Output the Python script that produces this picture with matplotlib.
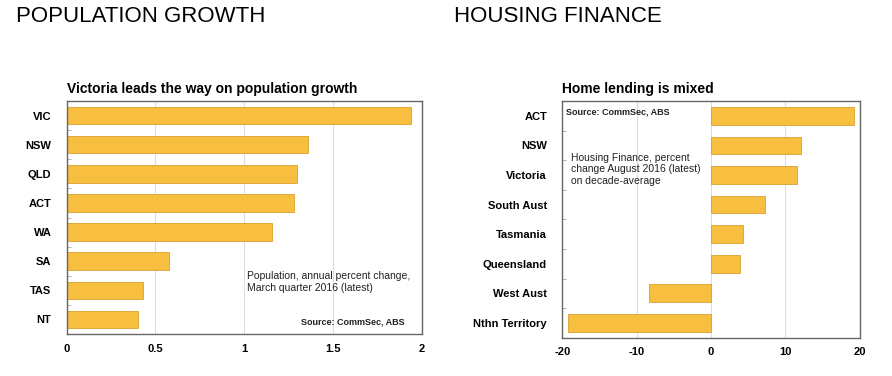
import matplotlib
matplotlib.use("Agg")
import matplotlib.pyplot as plt
import numpy as np

plt.rcParams['font.family'] = ['Liberation Sans', 'DejaVu Sans']
plt.rcParams['axes.unicode_minus'] = False

# population growth, annual % change, March qtr 2016
pop_states = ['VIC', 'NSW', 'QLD', 'ACT', 'WA', 'SA', 'TAS', 'NT']
pop_growth = [1.94, 1.36, 1.30, 1.28, 1.155, 0.575, 0.43, 0.40]

# housing finance, % change Aug 2016 on decade-average
fin_states = ['ACT', 'NSW', 'Victoria', 'South Aust', 'Tasmania',
              'Queensland', 'West Aust', 'Nthn Territory']
fin_change = [19.2, 12.1, 11.5, 7.3, 4.3, 3.9, -8.3, -19.3]

bar_col = '#F8BE40'
edge_col = '#D9A030'
W, H = 892, 376

fig = plt.figure(figsize=(8.92, 3.76), dpi=100)


def px(x, y):
    return x / W, 1 - y / H


def style_axes(ax, cats):
    ax.set_ylim(-0.5, len(cats) - 0.5)
    ax.invert_yaxis()
    ax.set_yticks(range(len(cats)))
    ax.set_yticklabels(cats, fontsize=8, fontweight='bold')
    ax.set_yticks(np.arange(0.5, len(cats) - 1, 1), minor=True)
    ax.tick_params(axis='y', which='major', length=0, pad=11)
    ax.tick_params(axis='y', which='minor', length=3, direction='in', color='#aaaaaa')
    ax.tick_params(axis='x', length=0, pad=7, labelsize=8)
    for lab in ax.get_xticklabels():
        lab.set_fontweight('bold')
    ax.grid(axis='x', color='#dddddd', linewidth=0.8)
    ax.set_axisbelow(True)
    for s in ax.spines.values():
        s.set_color('#666666')
        s.set_linewidth(1.0)


# left chart
ax1 = fig.add_axes([66.7 / W, 1 - 334 / H, 355 / W, 233 / H])
ax1.barh(range(len(pop_states)), pop_growth, height=0.6, color=bar_col,
         edgecolor=edge_col, linewidth=0.6)
ax1.set_xlim(0, 2)
ax1.set_xticks([0, 0.5, 1, 1.5, 2])
ax1.set_xticklabels(['0', '0.5', '1', '1.5', '2'])
style_axes(ax1, pop_states)
ax1.set_title('Victoria leads the way on population growth', fontsize=10,
              fontweight='bold', loc='left', pad=6)
ax1.title.set_position((0.003, 1))

fig.text(*px(16, 16), 'POPULATION GROWTH', fontsize=16, va='center', ha='left')
fig.text(*px(247, 282), 'Population, annual percent change,\nMarch quarter 2016 (latest)',
         fontsize=7.5, va='center', ha='left', color='#222222', linespacing=1.25)
fig.text(*px(405, 322), 'Source: CommSec, ABS', fontsize=6.5, fontweight='bold',
         va='center', ha='right', color='#222222')

# right chart
ax2 = fig.add_axes([562.3 / W, 1 - 337.7 / H, 297.4 / W, 236.7 / H])
ax2.barh(range(len(fin_states)), fin_change, height=0.6, color=bar_col,
         edgecolor=edge_col, linewidth=0.6)
ax2.set_xlim(-20, 20)
ax2.set_xticks([-20, -10, 0, 10, 20])
style_axes(ax2, fin_states)
ax2.set_title('Home lending is mixed', fontsize=10, fontweight='bold',
              loc='left', pad=6)
ax2.title.set_position((0.003, 1))

fig.text(*px(454, 16), 'HOUSING FINANCE', fontsize=16, va='center', ha='left')
fig.text(*px(566, 112.5), 'Source: CommSec, ABS', fontsize=6.5, fontweight='bold',
         va='center', ha='left', color='#222222')
fig.text(*px(571, 169.5), 'Housing Finance, percent\nchange August 2016 (latest)\non decade-average',
         fontsize=7.5, va='center', ha='left', color='#222222', linespacing=1.2)

fig.savefig('out.png', dpi=100, facecolor='white')
